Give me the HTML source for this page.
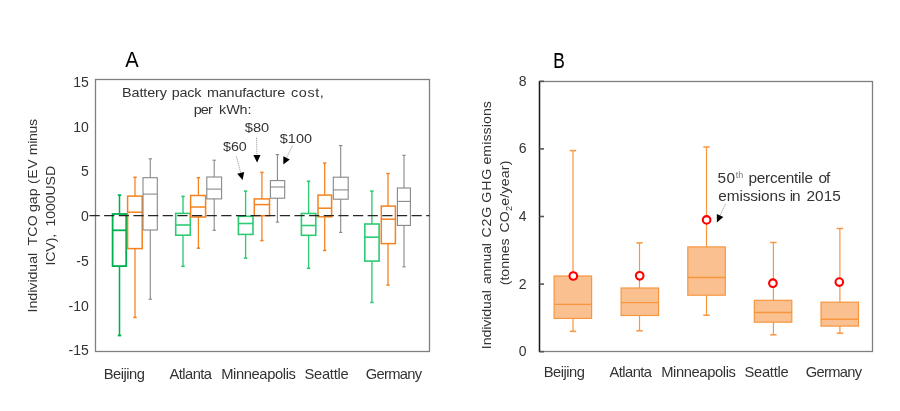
<!DOCTYPE html>
<html><head><meta charset="utf-8"><title>Figure</title>
<style>html,body{margin:0;padding:0;background:#fff;}svg{display:block;}</style>
</head><body><svg width="900" height="411" viewBox="0 0 900 411" font-family="Liberation Sans, Arial, sans-serif" fill="#333"><rect x="95.5" y="79.5" width="334" height="272" fill="none" stroke="#7f7f7f" stroke-width="1.3"/><g stroke="#00B050" stroke-width="1.8" fill="none"><line x1="119.5" y1="195.2" x2="119.5" y2="214.0" stroke-width="1.53"/><line x1="119.5" y1="266.1" x2="119.5" y2="335.5" stroke-width="1.53"/><line x1="117.8" y1="195.2" x2="121.2" y2="195.2"/><line x1="117.8" y1="335.5" x2="121.2" y2="335.5"/><rect x="112.6" y="214.0" width="13.6" height="52.1"/><line x1="112.6" y1="230.3" x2="126.2" y2="230.3"/></g><g stroke="#F5821F" stroke-width="1.5" fill="none"><line x1="135.0" y1="177.3" x2="135.0" y2="196.1" stroke-width="1.27"/><line x1="135.0" y1="248.6" x2="135.0" y2="317.4" stroke-width="1.27"/><line x1="133.3" y1="177.3" x2="136.7" y2="177.3"/><line x1="133.3" y1="317.4" x2="136.7" y2="317.4"/><rect x="127.6" y="196.1" width="14.6" height="52.5"/><line x1="127.6" y1="212.2" x2="142.2" y2="212.2"/></g><g stroke="#888888" stroke-width="1.1" fill="none"><line x1="150.3" y1="158.8" x2="150.3" y2="177.7" stroke-width="1.10"/><line x1="150.3" y1="230.0" x2="150.3" y2="299.2" stroke-width="1.10"/><line x1="148.60000000000002" y1="158.8" x2="152.0" y2="158.8"/><line x1="148.60000000000002" y1="299.2" x2="152.0" y2="299.2"/><rect x="143.0" y="177.7" width="14.3" height="52.3"/><line x1="143.0" y1="194.1" x2="157.3" y2="194.1"/></g><g stroke="#2DCB73" stroke-width="1.6" fill="none"><line x1="183.0" y1="196.4" x2="183.0" y2="213.4" stroke-width="1.36"/><line x1="183.0" y1="235.2" x2="183.0" y2="266.3" stroke-width="1.36"/><line x1="181.3" y1="196.4" x2="184.7" y2="196.4"/><line x1="181.3" y1="266.3" x2="184.7" y2="266.3"/><rect x="175.7" y="213.4" width="14.6" height="21.8"/><line x1="175.7" y1="225.0" x2="190.3" y2="225.0"/></g><g stroke="#F5821F" stroke-width="1.5" fill="none"><line x1="198.4" y1="177.7" x2="198.4" y2="195.5" stroke-width="1.27"/><line x1="198.4" y1="217.0" x2="198.4" y2="248.2" stroke-width="1.27"/><line x1="196.70000000000002" y1="177.7" x2="200.1" y2="177.7"/><line x1="196.70000000000002" y1="248.2" x2="200.1" y2="248.2"/><rect x="190.6" y="195.5" width="15.0" height="21.5"/><line x1="190.6" y1="207.0" x2="205.6" y2="207.0"/></g><g stroke="#888888" stroke-width="1.1" fill="none"><line x1="214.2" y1="160.2" x2="214.2" y2="177.0" stroke-width="1.10"/><line x1="214.2" y1="198.9" x2="214.2" y2="230.3" stroke-width="1.10"/><line x1="212.5" y1="160.2" x2="215.89999999999998" y2="160.2"/><line x1="212.5" y1="230.3" x2="215.89999999999998" y2="230.3"/><rect x="206.8" y="177.0" width="14.8" height="21.9"/><line x1="206.8" y1="189.1" x2="221.6" y2="189.1"/></g><g stroke="#2DCB73" stroke-width="1.6" fill="none"><line x1="245.6" y1="191.1" x2="245.6" y2="216.3" stroke-width="1.36"/><line x1="245.6" y1="234.4" x2="245.6" y2="258.1" stroke-width="1.36"/><line x1="243.9" y1="191.1" x2="247.29999999999998" y2="191.1"/><line x1="243.9" y1="258.1" x2="247.29999999999998" y2="258.1"/><rect x="238.4" y="216.3" width="14.6" height="18.1"/><line x1="238.4" y1="223.5" x2="253.0" y2="223.5"/></g><g stroke="#F5821F" stroke-width="1.5" fill="none"><line x1="261.9" y1="172.4" x2="261.9" y2="198.9" stroke-width="1.27"/><line x1="261.9" y1="215.7" x2="261.9" y2="240.6" stroke-width="1.27"/><line x1="260.2" y1="172.4" x2="263.59999999999997" y2="172.4"/><line x1="260.2" y1="240.6" x2="263.59999999999997" y2="240.6"/><rect x="254.3" y="198.9" width="15.2" height="16.8"/><line x1="254.3" y1="204.6" x2="269.5" y2="204.6"/></g><g stroke="#888888" stroke-width="1.1" fill="none"><line x1="277.4" y1="154.6" x2="277.4" y2="180.6" stroke-width="1.10"/><line x1="277.4" y1="198.2" x2="277.4" y2="222.1" stroke-width="1.10"/><line x1="275.7" y1="154.6" x2="279.09999999999997" y2="154.6"/><line x1="275.7" y1="222.1" x2="279.09999999999997" y2="222.1"/><rect x="270.4" y="180.6" width="14.3" height="17.6"/><line x1="270.4" y1="187.0" x2="284.7" y2="187.0"/></g><g stroke="#2DCB73" stroke-width="1.6" fill="none"><line x1="308.6" y1="181.3" x2="308.6" y2="213.5" stroke-width="1.36"/><line x1="308.6" y1="235.3" x2="308.6" y2="268.3" stroke-width="1.36"/><line x1="306.90000000000003" y1="181.3" x2="310.3" y2="181.3"/><line x1="306.90000000000003" y1="268.3" x2="310.3" y2="268.3"/><rect x="301.4" y="213.5" width="14.4" height="21.8"/><line x1="301.4" y1="225.5" x2="315.8" y2="225.5"/></g><g stroke="#F5821F" stroke-width="1.5" fill="none"><line x1="324.7" y1="163.1" x2="324.7" y2="195.1" stroke-width="1.27"/><line x1="324.7" y1="216.8" x2="324.7" y2="250.4" stroke-width="1.27"/><line x1="323.0" y1="163.1" x2="326.4" y2="163.1"/><line x1="323.0" y1="250.4" x2="326.4" y2="250.4"/><rect x="318.0" y="195.1" width="13.6" height="21.7"/><line x1="318.0" y1="208.2" x2="331.6" y2="208.2"/></g><g stroke="#888888" stroke-width="1.1" fill="none"><line x1="340.7" y1="145.6" x2="340.7" y2="177.2" stroke-width="1.10"/><line x1="340.7" y1="199.2" x2="340.7" y2="232.4" stroke-width="1.10"/><line x1="339.0" y1="145.6" x2="342.4" y2="145.6"/><line x1="339.0" y1="232.4" x2="342.4" y2="232.4"/><rect x="333.3" y="177.2" width="14.9" height="22.0"/><line x1="333.3" y1="189.9" x2="348.2" y2="189.9"/></g><g stroke="#2DCB73" stroke-width="1.6" fill="none"><line x1="371.9" y1="191.1" x2="371.9" y2="224.0" stroke-width="1.36"/><line x1="371.9" y1="261.1" x2="371.9" y2="302.4" stroke-width="1.36"/><line x1="370.2" y1="191.1" x2="373.59999999999997" y2="191.1"/><line x1="370.2" y1="302.4" x2="373.59999999999997" y2="302.4"/><rect x="364.8" y="224.0" width="14.3" height="37.1"/><line x1="364.8" y1="237.2" x2="379.1" y2="237.2"/></g><g stroke="#F5821F" stroke-width="1.5" fill="none"><line x1="388.0" y1="173.6" x2="388.0" y2="206.1" stroke-width="1.27"/><line x1="388.0" y1="243.6" x2="388.0" y2="285.0" stroke-width="1.27"/><line x1="386.3" y1="173.6" x2="389.7" y2="173.6"/><line x1="386.3" y1="285.0" x2="389.7" y2="285.0"/><rect x="381.3" y="206.1" width="14.1" height="37.5"/><line x1="381.3" y1="219.2" x2="395.4" y2="219.2"/></g><g stroke="#888888" stroke-width="1.1" fill="none"><line x1="404.0" y1="155.3" x2="404.0" y2="188.0" stroke-width="1.10"/><line x1="404.0" y1="225.4" x2="404.0" y2="266.8" stroke-width="1.10"/><line x1="402.3" y1="155.3" x2="405.7" y2="155.3"/><line x1="402.3" y1="266.8" x2="405.7" y2="266.8"/><rect x="397.4" y="188.0" width="13.0" height="37.4"/><line x1="397.4" y1="201.4" x2="410.4" y2="201.4"/></g><line x1="89.5" y1="215.6" x2="429.5" y2="215.6" stroke="#262626" stroke-width="1.4" stroke-dasharray="10.2 4.44"/><rect x="539.5" y="81.5" width="333" height="270" fill="none" stroke="#7f7f7f" stroke-width="1.3"/><line x1="539.5" y1="81" x2="539.5" y2="352" stroke="#1a1a1a" stroke-width="1.4"/><line x1="539.5" y1="351.7" x2="544" y2="351.7" stroke="#555" stroke-width="1.6"/><line x1="539.5" y1="284.1" x2="544" y2="284.1" stroke="#555" stroke-width="1.6"/><line x1="539.5" y1="216.5" x2="544" y2="216.5" stroke="#555" stroke-width="1.6"/><line x1="539.5" y1="148.9" x2="544" y2="148.9" stroke="#555" stroke-width="1.6"/><line x1="539.5" y1="81.3" x2="544" y2="81.3" stroke="#555" stroke-width="1.6"/><line x1="573.0" y1="150.6" x2="573.0" y2="276.0" stroke="#F7963F" stroke-width="1.2"/><line x1="573.0" y1="318.4" x2="573.0" y2="331.4" stroke="#F7963F" stroke-width="1.2"/><line x1="569.8" y1="150.6" x2="576.2" y2="150.6" stroke="#F7963F" stroke-width="1.5"/><line x1="569.8" y1="331.4" x2="576.2" y2="331.4" stroke="#F7963F" stroke-width="1.5"/><rect x="554.1" y="276.0" width="37.5" height="42.4" fill="#FAC090" stroke="#F7963F" stroke-width="1.2"/><line x1="554.1" y1="304.4" x2="591.6" y2="304.4" stroke="#F7963F" stroke-width="1.4"/><circle cx="573.3" cy="276.0" r="3.8" fill="#fff" stroke="#FF0000" stroke-width="2.1"/><line x1="639.5" y1="242.9" x2="639.5" y2="288.0" stroke="#F7963F" stroke-width="1.2"/><line x1="639.5" y1="315.5" x2="639.5" y2="330.8" stroke="#F7963F" stroke-width="1.2"/><line x1="636.3" y1="242.9" x2="642.7" y2="242.9" stroke="#F7963F" stroke-width="1.5"/><line x1="636.3" y1="330.8" x2="642.7" y2="330.8" stroke="#F7963F" stroke-width="1.5"/><rect x="621.1" y="288.0" width="37.5" height="27.5" fill="#FAC090" stroke="#F7963F" stroke-width="1.2"/><line x1="621.1" y1="302.6" x2="658.6" y2="302.6" stroke="#F7963F" stroke-width="1.4"/><circle cx="639.7" cy="275.8" r="3.8" fill="#fff" stroke="#FF0000" stroke-width="2.1"/><line x1="706.5" y1="147.0" x2="706.5" y2="246.9" stroke="#F7963F" stroke-width="1.2"/><line x1="706.5" y1="295.2" x2="706.5" y2="315.2" stroke="#F7963F" stroke-width="1.2"/><line x1="703.3" y1="147.0" x2="709.7" y2="147.0" stroke="#F7963F" stroke-width="1.5"/><line x1="703.3" y1="315.2" x2="709.7" y2="315.2" stroke="#F7963F" stroke-width="1.5"/><rect x="687.8" y="246.9" width="37.5" height="48.3" fill="#FAC090" stroke="#F7963F" stroke-width="1.2"/><line x1="687.8" y1="277.5" x2="725.3" y2="277.5" stroke="#F7963F" stroke-width="1.4"/><circle cx="706.6" cy="219.9" r="3.8" fill="#fff" stroke="#FF0000" stroke-width="2.1"/><line x1="773.4" y1="242.5" x2="773.4" y2="300.3" stroke="#F7963F" stroke-width="1.2"/><line x1="773.4" y1="322.2" x2="773.4" y2="334.8" stroke="#F7963F" stroke-width="1.2"/><line x1="770.1999999999999" y1="242.5" x2="776.6" y2="242.5" stroke="#F7963F" stroke-width="1.5"/><line x1="770.1999999999999" y1="334.8" x2="776.6" y2="334.8" stroke="#F7963F" stroke-width="1.5"/><rect x="754.3" y="300.3" width="37.5" height="21.9" fill="#FAC090" stroke="#F7963F" stroke-width="1.2"/><line x1="754.3" y1="312.5" x2="791.8" y2="312.5" stroke="#F7963F" stroke-width="1.4"/><circle cx="772.9" cy="283.2" r="3.8" fill="#fff" stroke="#FF0000" stroke-width="2.1"/><line x1="839.9" y1="228.5" x2="839.9" y2="302.2" stroke="#F7963F" stroke-width="1.2"/><line x1="839.9" y1="326.1" x2="839.9" y2="333.2" stroke="#F7963F" stroke-width="1.2"/><line x1="836.6999999999999" y1="228.5" x2="843.1" y2="228.5" stroke="#F7963F" stroke-width="1.5"/><line x1="836.6999999999999" y1="333.2" x2="843.1" y2="333.2" stroke="#F7963F" stroke-width="1.5"/><rect x="821.0" y="302.2" width="37.5" height="23.9" fill="#FAC090" stroke="#F7963F" stroke-width="1.2"/><line x1="821.0" y1="319.3" x2="858.5" y2="319.3" stroke="#F7963F" stroke-width="1.4"/><circle cx="839.3" cy="282.1" r="3.8" fill="#fff" stroke="#FF0000" stroke-width="2.1"/><line x1="236.4" y1="156.3" x2="240.71" y2="172.84" stroke="#999" stroke-width="0.8" stroke-dasharray="1.5 0.7"/><polygon points="242.6,180.1 237.23,173.75 244.19,171.93" fill="#000"/><line x1="256.5" y1="137.5" x2="256.92" y2="155.00" stroke="#999" stroke-width="0.8" stroke-dasharray="1.5 0.7"/><polygon points="257.1,162.5 253.32,155.09 260.52,154.92" fill="#000"/><line x1="292.5" y1="145.5" x2="286.55" y2="157.84" stroke="#999" stroke-width="0.8" stroke-dasharray="1.5 0.7"/><polygon points="283.3,164.6 283.31,156.28 289.80,159.41" fill="#000"/><line x1="725.5" y1="203.9" x2="720.06" y2="215.60" stroke="#999" stroke-width="0.8" stroke-dasharray="1.5 0.7"/><polygon points="716.9,222.4 716.80,214.08 723.33,217.12" fill="#000"/><g transform="translate(125.14,66.8) scale(0.936,1)"><text x="0" y="0" font-size="21.5" fill="#000">A</text></g><g transform="translate(553.36,67.8) scale(0.805,1)"><text x="0" y="0" font-size="21.5" fill="#000" stroke="#000" stroke-width="0.15">B</text></g><g transform="translate(122.02,96.8) scale(1.060,1)"><text x="0" y="0" font-size="13.6" textLength="42.45" lengthAdjust="spacing">Battery</text></g><g transform="translate(171.66,96.8) scale(1.060,1)"><text x="0" y="0" font-size="13.6" textLength="28.21" lengthAdjust="spacing">pack</text></g><g transform="translate(206.98,96.8) scale(1.060,1)"><text x="0" y="0" font-size="13.6" textLength="73.81" lengthAdjust="spacing">manufacture</text></g><g transform="translate(291.08,96.8) scale(1.060,1)"><text x="0" y="0" font-size="13.6" textLength="30.91" lengthAdjust="spacing">cost,</text></g><g transform="translate(193.66,114.4) scale(1.060,1)"><text x="0" y="0" font-size="13.6" textLength="18.15" lengthAdjust="spacing">per</text></g><g transform="translate(219.08,114.4) scale(1.060,1)"><text x="0" y="0" font-size="13.6" textLength="30.62" lengthAdjust="spacing">kWh:</text></g><g transform="translate(222.96,151.4) scale(1.050,1)"><text x="0" y="0" font-size="13.6">$60</text></g><g transform="translate(244.72,132.0) scale(1.081,1)"><text x="0" y="0" font-size="13.6">$80</text></g><g transform="translate(279.78,142.9) scale(1.067,1)"><text x="0" y="0" font-size="13.6">$100</text></g><g transform="translate(717.52,182.9) scale(1.060,1)"><text x="0" y="0" font-size="14.5" textLength="16.60" lengthAdjust="spacing">50</text></g><g transform="translate(735.70,177.6) scale(1.060,1)"><text x="0" y="0" font-size="8.5" fill="#777" textLength="7.21" lengthAdjust="spacing">th</text></g><g transform="translate(748.40,182.9) scale(1.060,1)"><text x="0" y="0" font-size="14.5" textLength="60.98" lengthAdjust="spacing">percentile</text></g><g transform="translate(818.46,182.9) scale(1.060,1)"><text x="0" y="0" font-size="14.5" textLength="11.13" lengthAdjust="spacing">of</text></g><g transform="translate(718.32,201.4) scale(1.060,1)"><text x="0" y="0" font-size="14.5" textLength="63.49" lengthAdjust="spacing">emissions</text></g><g transform="translate(789.66,201.4) scale(1.060,1)"><text x="0" y="0" font-size="14.5" textLength="10.30" lengthAdjust="spacing">in</text></g><g transform="translate(806.58,201.4) scale(1.060,1)"><text x="0" y="0" font-size="14.5" textLength="32.25" lengthAdjust="spacing">2015</text></g><g transform="translate(103.78,378.6) scale(1.060,1)"><text x="0" y="0" font-size="13.9" textLength="38.77" lengthAdjust="spacing">Beijing</text></g><g transform="translate(543.78,377.0) scale(1.060,1)"><text x="0" y="0" font-size="13.9" textLength="38.77" lengthAdjust="spacing">Beijing</text></g><g transform="translate(169.40,378.6) scale(1.060,1)"><text x="0" y="0" font-size="13.9" textLength="40.23" lengthAdjust="spacing">Atlanta</text></g><g transform="translate(609.40,377.0) scale(1.060,1)"><text x="0" y="0" font-size="13.9" textLength="40.23" lengthAdjust="spacing">Atlanta</text></g><g transform="translate(221.22,378.6) scale(1.060,1)"><text x="0" y="0" font-size="13.9" textLength="70.43" lengthAdjust="spacing">Minneapolis</text></g><g transform="translate(661.22,377.0) scale(1.060,1)"><text x="0" y="0" font-size="13.9" textLength="70.43" lengthAdjust="spacing">Minneapolis</text></g><g transform="translate(304.40,378.6) scale(1.060,1)"><text x="0" y="0" font-size="13.9" textLength="41.81" lengthAdjust="spacing">Seattle</text></g><g transform="translate(744.40,377.0) scale(1.060,1)"><text x="0" y="0" font-size="13.9" textLength="41.81" lengthAdjust="spacing">Seattle</text></g><g transform="translate(365.84,378.6) scale(1.060,1)"><text x="0" y="0" font-size="13.9" textLength="53.02" lengthAdjust="spacing">Germany</text></g><g transform="translate(805.84,377.0) scale(1.060,1)"><text x="0" y="0" font-size="13.9" textLength="53.02" lengthAdjust="spacing">Germany</text></g><g transform="translate(37.2,312.40) rotate(-90) scale(1.06,1)"><text x="0" y="0" font-size="13.3" xml:space="preserve" textLength="56.23" lengthAdjust="spacing">Individual</text></g><g transform="translate(37.2,245.46) rotate(-90) scale(1.06,1)"><text x="0" y="0" font-size="13.3" xml:space="preserve" textLength="28.42" lengthAdjust="spacing">TCO</text></g><g transform="translate(37.2,211.98) rotate(-90) scale(1.06,1)"><text x="0" y="0" font-size="13.3" xml:space="preserve" textLength="22.13" lengthAdjust="spacing">gap</text></g><g transform="translate(37.2,183.92) rotate(-90) scale(1.06,1)"><text x="0" y="0" font-size="13.3" xml:space="preserve" textLength="23.21" lengthAdjust="spacing">(EV</text></g><g transform="translate(37.2,155.26) rotate(-90) scale(1.06,1)"><text x="0" y="0" font-size="13.3" xml:space="preserve" textLength="34.30" lengthAdjust="spacing">minus</text></g><g transform="translate(54.8,265.54) rotate(-90) scale(1.06,1)"><text x="0" y="0" font-size="13.3" xml:space="preserve" textLength="29.92" lengthAdjust="spacing">ICV),</text></g><g transform="translate(54.8,226.40) rotate(-90) scale(1.06,1)"><text x="0" y="0" font-size="13.3" xml:space="preserve" textLength="57.06" lengthAdjust="spacing">1000USD</text></g><g transform="translate(490.8,349.16) rotate(-90) scale(1.06,1)"><text x="0" y="0" font-size="13.3" xml:space="preserve" textLength="55.60" lengthAdjust="spacing">Individual</text></g><g transform="translate(490.8,283.98) rotate(-90) scale(1.06,1)"><text x="0" y="0" font-size="13.3" xml:space="preserve" textLength="38.49" lengthAdjust="spacing">annual</text></g><g transform="translate(490.8,237.40) rotate(-90) scale(1.06,1)"><text x="0" y="0" font-size="13.3" xml:space="preserve" textLength="28.87" lengthAdjust="spacing">C2G</text></g><g transform="translate(490.8,202.64) rotate(-90) scale(1.06,1)"><text x="0" y="0" font-size="13.3" xml:space="preserve" textLength="32.02" lengthAdjust="spacing">GHG</text></g><g transform="translate(490.8,164.58) rotate(-90) scale(1.06,1)"><text x="0" y="0" font-size="13.3" xml:space="preserve" textLength="59.87" lengthAdjust="spacing">emissions</text></g><g transform="translate(508.5,285.16) rotate(-90) scale(1.06,1)"><text x="0" y="0" font-size="13.3" xml:space="preserve" textLength="44.17" lengthAdjust="spacing">(tonnes</text></g><g transform="translate(508.5,232.60) rotate(-90) scale(1.06,1)"><text x="0" y="0" font-size="13.3" xml:space="preserve" letter-spacing="0.21">CO<tspan font-size="8.5" dy="3">2</tspan><tspan dy="-3">e/year)</tspan></text></g><text x="88.8" y="86.9" font-size="14" text-anchor="end">15</text><text x="88.8" y="131.6" font-size="14" text-anchor="end">10</text><text x="88.8" y="176.4" font-size="14" text-anchor="end">5</text><text x="88.8" y="221.1" font-size="14" text-anchor="end">0</text><text x="88.8" y="265.8" font-size="14" text-anchor="end">-5</text><text x="88.8" y="310.5" font-size="14" text-anchor="end">-10</text><text x="88.8" y="355.3" font-size="14" text-anchor="end">-15</text><text x="526.5" y="85.6" font-size="14" text-anchor="end">8</text><text x="526.5" y="153.3" font-size="14" text-anchor="end">6</text><text x="526.5" y="221.0" font-size="14" text-anchor="end">4</text><text x="526.5" y="288.7" font-size="14" text-anchor="end">2</text><text x="526.5" y="356.4" font-size="14" text-anchor="end">0</text></svg></body></html>
